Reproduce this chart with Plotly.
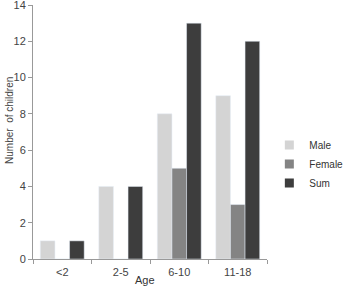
import plotly.graph_objects as go

categories = ["<2", "2-5", "6-10", "11-18"]
male = [1, 4, 8, 9]
female = [0, 0, 5, 3]
total = [1, 4, 13, 12]

names = ["Male", "Female", "Sum"]
colors = ["#d4d4d4", "#848484", "#3d3d3d"]
series = [male, female, total]

fig = go.Figure()
for n, c, s in zip(names, colors, series):
    fig.add_bar(x=categories, y=s, name=n, marker_color=c, showlegend=False)
for n, c in zip(names, colors):
    fig.add_scatter(x=[None], y=[None], mode="markers", name=n,
                    marker=dict(symbol="square", size=9, color=c))

font = dict(family="Liberation Sans, Arial, sans-serif", size=11, color="#444")
fig.update_layout(
    width=353, height=287,
    margin=dict(l=33, r=78, t=5, b=28),
    paper_bgcolor="white", plot_bgcolor="white",
    barmode="group", bargap=0.25, bargroupgap=0,
    font=font,
    showlegend=True,
    legend=dict(x=1.01, y=0.374, xanchor="left", yanchor="middle",
                font=dict(size=10, color="#333"), itemwidth=30,
                tracegroupgap=0, bgcolor="rgba(0,0,0,0)"),
    xaxis=dict(
        automargin=False,
        showline=True, linecolor="#999", linewidth=1,
        ticks="outside", tickson="boundaries", ticklen=4, tickcolor="#999",
        ticklabelstandoff=3,
        showgrid=False, tickfont=dict(size=11, color="#444"),
    ),
    yaxis=dict(
        automargin=False,
        range=[0, 14], tickvals=[0, 2, 4, 6, 8, 10, 12, 14],
        ticklabeloverflow="allow",
        showline=True, linecolor="#999", linewidth=1,
        ticks="outside", ticklen=4, tickcolor="#999",
        showgrid=False, zeroline=False, tickfont=dict(size=11, color="#444"),
    ),
    annotations=[
        dict(text="Number  of children", xref="paper", yref="paper",
             x=-0.103, y=0.547, textangle=-90, showarrow=False,
             xanchor="center", yanchor="middle",
             font=dict(size=10, color="#444")),
        dict(text="Age", xref="paper", yref="paper",
             x=0.48, y=-0.084, showarrow=False,
             xanchor="center", yanchor="middle",
             font=dict(size=11, color="#333")),
    ],
)

fig.write_html("out.html")
